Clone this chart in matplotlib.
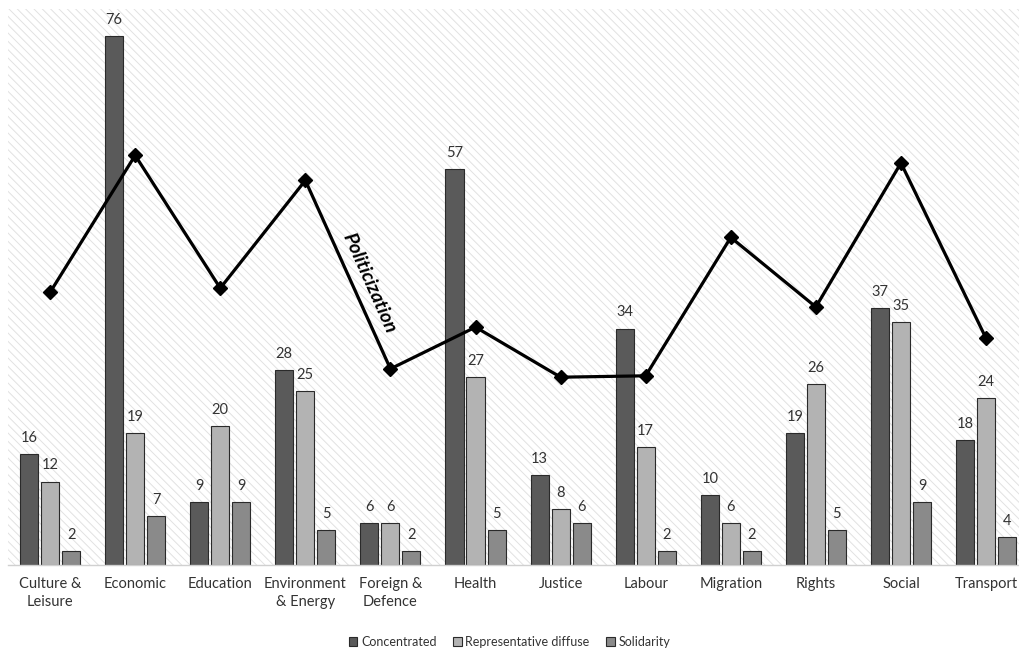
import matplotlib
matplotlib.use("Agg")
import matplotlib.pyplot as plt
import numpy as np

categories = ["Culture &\nLeisure", "Economic", "Education", "Environment\n& Energy",
              "Foreign &\nDefence", "Health", "Justice", "Labour", "Migration",
              "Rights", "Social", "Transport"]
concentrated = [16, 76, 9, 28, 6, 57, 13, 34, 10, 19, 37, 18]
representative = [12, 19, 20, 25, 6, 27, 8, 17, 6, 26, 35, 24]
solidarity = [2, 7, 9, 5, 2, 5, 6, 2, 2, 5, 9, 4]
politicization = [39.2, 58.9, 39.8, 55.3, 28.2, 34.2, 27.0, 27.2, 47.1, 37.1, 57.8, 32.6]

series_names = ["Concentrated", "Representative diffuse", "Solidarity"]
colors = ["#5a5a5a", "#b3b3b3", "#8a8a8a"]

plt.rcParams["font.family"] = ["Lato", "DejaVu Sans"]
plt.rcParams["hatch.color"] = "#e2e2e2"
plt.rcParams["hatch.linewidth"] = 0.7

fig = plt.figure(figsize=(10.19, 6.5), dpi=100)
ax = fig.add_axes([0.0074, 0.1308, 1.002, 0.856])
ax.patch.set_facecolor("white")
ax.patch.set_hatch("\\\\\\\\")
ax.patch.set_edgecolor("#e2e2e2")

x = np.arange(len(categories))
w = 0.212
step = 0.247
for i, (vals, name, c) in enumerate(zip([concentrated, representative, solidarity], series_names, colors)):
    pos = x + (i - 1) * step
    ax.bar(pos, vals, width=w, color=c, edgecolor="#2a2a2a", linewidth=0.8,
           label=name, zorder=2)
    for p, v in zip(pos, vals):
        ax.text(p, v + 1.3, str(v), ha="center", va="bottom", fontsize=10.5,
                color="#333333", zorder=4)

ax.plot(x, politicization, color="black", linewidth=2.3, marker="D", markersize=7,
        zorder=3)
ax.text(3.75, 40.5, "Politicization", rotation=-66, ha="center", va="center",
        fontsize=14, fontweight="bold", fontstyle="italic", zorder=4)

ax.set_xlim(-0.5, len(categories) - 0.5)
ax.set_ylim(0, 80)
ax.set_yticks([])
ax.set_xticks(x)
ax.set_xticklabels(categories, fontsize=10.5, color="#333333", linespacing=1.35)
ax.tick_params(axis="x", length=0, pad=9)
for s in ["top", "right", "left"]:
    ax.spines[s].set_visible(False)
ax.spines["bottom"].set_color("#d0d0d0")
ax.spines["bottom"].set_linewidth(1)

handles, labels = ax.get_legend_handles_labels()
fig.legend(handles, labels, loc="center", bbox_to_anchor=(0.5, 0.012),
           ncol=3, frameon=False, fontsize=9, handlelength=0.7, handleheight=0.7,
           handletextpad=0.3, columnspacing=1.3, labelcolor="#333333")

fig.savefig("out.png", dpi=100)
